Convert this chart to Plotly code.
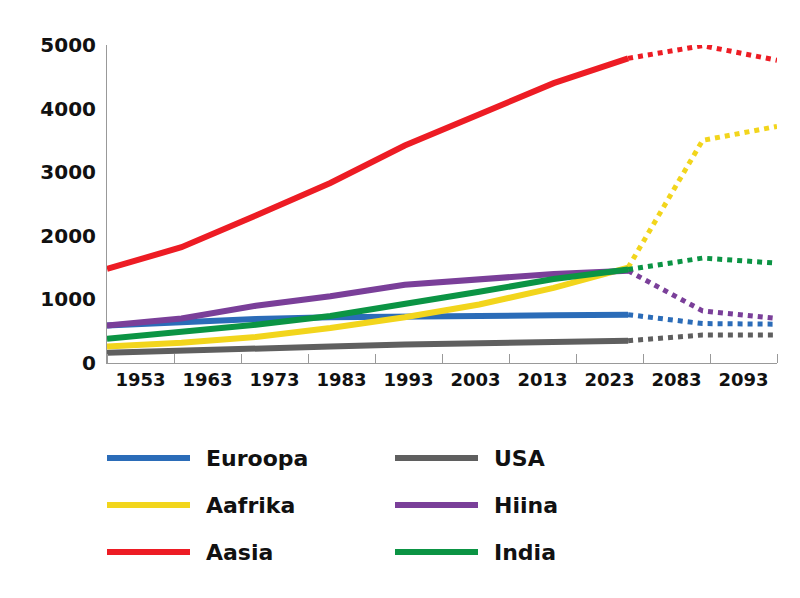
import plotly.graph_objects as go

x_points = list(range(10))
tick_labels = ["1953", "1963", "1973", "1983", "1993", "2003", "2013", "2023", "2083", "2093"]

series_names = ["Euroopa", "USA", "Aafrika", "Hiina", "Aasia", "India"]
series_colors = ["#2B6CB8", "#5F5F5F", "#F2D51C", "#7A3F99", "#ED1C24", "#0B9444"]
euroopa = [590, 650, 690, 720, 740, 740, 750, 760, 620, 610]
usa = [160, 200, 230, 260, 290, 310, 330, 350, 440, 440]
aafrika = [260, 320, 410, 550, 720, 920, 1180, 1500, 3500, 3720]
hiina = [590, 700, 900, 1050, 1230, 1320, 1400, 1450, 820, 700]
aasia = [1480, 1820, 2320, 2830, 3420, 3920, 4400, 4790, 4990, 4760]
india = [380, 480, 600, 740, 920, 1120, 1320, 1470, 1650, 1570]
series_values = [euroopa, usa, aafrika, hiina, aasia, india]
last_solid = 7  # pärast seda prognoos (punktiir)
font_family = "DejaVu Sans, sans-serif"

fig = go.Figure()

# joonistusjärjekord: alumised enne
for i in [1, 0, 2, 3, 5, 4]:
    values = series_values[i]
    fig.add_trace(go.Scatter(
        x=x_points[:last_solid + 1], y=values[:last_solid + 1],
        mode="lines", line=dict(color=series_colors[i], width=6),
        showlegend=False
    ))
    fig.add_trace(go.Scatter(
        x=x_points[last_solid:], y=values[last_solid:],
        mode="lines", line=dict(color=series_colors[i], width=5, dash="dot"),
        showlegend=False
    ))

# legend käsitsi, kahes veerus
for i, name in enumerate(series_names):
    col = i % 2
    row = i // 2
    x0 = 0 if col == 0 else 288
    y0 = 458 + row * 47
    fig.add_shape(
        type="line", xref="paper", yref="paper",
        x0=x0 / 670, x1=(x0 + 83) / 670,
        y0=(363 - y0) / 318, y1=(363 - y0) / 318,
        line=dict(color=series_colors[i], width=6)
    )
    fig.add_annotation(
        text=name, xref="paper", yref="paper",
        x=(x0 + 97) / 670, y=(363 - y0) / 318,
        xanchor="left", yanchor="middle", showarrow=False,
        font=dict(size=22, color="#111111", family=font_family, weight="bold")
    )

fig.update_xaxes(
    range=[0, 9], showgrid=False, zeroline=False,
    tickvals=[(k + 0.5) * 0.9 for k in range(10)], ticktext=tick_labels,
    ticks="", showline=True, linecolor="#999999", linewidth=1,
    tickfont=dict(size=18, color="#111111", family=font_family, weight="bold"),
    minor=dict(tick0=0, dtick=0.9, ticks="inside", ticklen=9, tickcolor="#999999", showgrid=False)
)
fig.update_yaxes(
    range=[0, 5000], tickvals=[0, 1000, 2000, 3000, 4000, 5000],
    showgrid=False, zeroline=False, showline=True, linecolor="#999999", linewidth=1,
    ticks="", ticklabelstandoff=6,
    tickfont=dict(size=20, color="#111111", family=font_family, weight="bold")
)
fig.update_layout(
    width=800, height=598,
    margin=dict(l=99, r=31, t=37, b=243),
    plot_bgcolor="white", paper_bgcolor="white",
    showlegend=False
)

fig.write_html("out.html")
